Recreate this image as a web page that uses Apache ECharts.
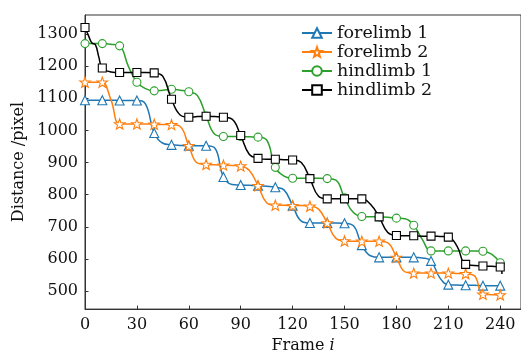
<!DOCTYPE html>
<html>
<head>
<meta charset="utf-8">
<script src="https://cdn.jsdelivr.net/npm/echarts@6/dist/echarts.min.js"></script>
<style>
html,body{margin:0;padding:0;background:#fff;}
#chart{width:521px;height:359px;}
</style>
</head>
<body>
<div id="chart"></div>
<script>
const frames = [0,2,4,6,8,10,15,20,25,30,35,40,45,50,55,60,65,70,75,80,85,90,95,100,105,110,115,120,125,130,135,140,145,150,155,160,165,170,175,180,185,190,195,200,205,210,215,220,225,230,235,240,241];

const forelimb1 = [1094,1094,1094,1094,1094,1094,1094,1093,1093,1093,1082,992,960,955,953,952,952,952,945,855,832,830,829,828,826,823,815,766,718,712,712,712,712,711,704,643,610,605,605,605,605,605,603,594,542,520,519,518,518,517,517,517,null];
const forelimb2 = [1150,1150,1150,1150,1150,1150,1095,1020,1020,1020,1020,1019,1018,1018,1012,952,898,894,893,892,891,889,875,828,775,767,767,766,766,764,755,712,664,656,655,655,655,655,650,605,560,556,556,556,556,556,555,554,548,490,489,488,null];
const hindlimb1 = [1270,1270,1270,1270,1270,1270,1268,1263,1200,1150,1130,1123,1125,1128,1125,1120,1108,1045,988,981,981,981,980,979,970,885,858,851,851,851,851,850,845,790,745,732,731,731,730,727,725,705,660,625,625,625,625,625,625,624,615,588,null];
const hindlimb2 = [1320,1295,1272,1267,1228,1194,1182,1180,1180,1180,1180,1179,1168,1097,1048,1041,1043,1044,1043,1041,1035,984,925,913,910,910,909,908,900,850,795,787,787,787,787,787,770,731,682,673,672,672,671,671,670,668,640,583,580,578,577,575,553];

const seriesNames = ['forelimb 1','forelimb 2','hindlimb 1','hindlimb 2'];
const xTicks = [0,30,60,90,120,150,180,210,240];
const yTicks = [500,600,700,800,900,1000,1100,1200,1300];

const STAR = 'path://M0,-10L2.35,-3.24L9.51,-3.09L3.8,1.24L5.88,8.09L0,4.5L-5.88,8.09L-3.8,1.24L-9.51,-3.09L-2.35,-3.24Z';
const styles = [
  {color:'#1f77b4', symbol:'triangle', size:9},
  {color:'#ff7f0e', symbol:STAR, size:10.5},
  {color:'#2ca02c', symbol:'circle', size:8},
  {color:'#000000', symbol:'rect', size:8}
];
const allValues = [forelimb1, forelimb2, hindlimb1, hindlimb2];

const FONT = '"DejaVu Serif", "Liberation Serif", serif';

function build(vals){
  const out = [];
  vals.forEach((v,i)=>{
    if (v === null || v === undefined) return;
    const item = {value:[frames[i], v]};
    if (frames[i] % 10 !== 0) item.symbol = 'none';
    out.push(item);
  });
  return out;
}

const series = allValues.map((vals, k)=>({
  name: seriesNames[k],
  type: 'line',
  data: build(vals),
  smooth: 0.45,
  symbol: styles[k].symbol,
  symbolSize: styles[k].size,
  symbolKeepAspect: true,
  showAllSymbol: true,
  lineStyle: {color: styles[k].color, width: 1.5},
  itemStyle: {color: '#ffffff', borderColor: styles[k].color, borderWidth: 1.1},
  color: styles[k].color,
  z: 2 + k,
  animation: false
}));

const chart = echarts.init(document.getElementById('chart'), null, {renderer:'canvas'});
chart.setOption({
  backgroundColor: '#ffffff',
  animation: false,
  grid: {left: 85, top: 15, bottom: 44, right: -7.5, show: true, borderColor: '#333', borderWidth: 1, backgroundColor: 'transparent'},
  legend: {
    data: seriesNames,
    orient: 'vertical',
    left: 296, top: 19,
    itemWidth: 30, itemHeight: 12, itemGap: 1,
    textStyle: {fontFamily: FONT, fontSize: 17.5, color: '#111'},
    backgroundColor: 'transparent'
  },
  xAxis: {
    type: 'value', min: 0, max: 252,
    name: 'Frame {it|i}',
    nameLocation: 'middle', nameGap: 28,
    nameTextStyle: {fontFamily: FONT, fontSize: 16, color: '#111', rich: {it: {fontFamily: FONT, fontStyle: 'italic', fontSize: 16, color:'#111'}}},
    axisLine: {show: true, lineStyle: {color: '#333', width: 1}},
    axisTick: {show: true, inside: true, length: 3.5, lineStyle: {color: '#333'}, customValues: xTicks},
    axisLabel: {customValues: xTicks, fontFamily: FONT, fontSize: 16, color: '#111', margin: 8, formatter: v => String(v)},
    splitLine: {show: false}
  },
  yAxis: {
    type: 'value', min: 444, max: 1359,
    name: 'Distance /pixel',
    nameLocation: 'middle', nameGap: 50,
    nameTextStyle: {fontFamily: FONT, fontSize: 16, color: '#111'},
    axisLine: {show: true, lineStyle: {color: '#333', width: 1}},
    axisTick: {show: true, inside: true, length: 3.5, lineStyle: {color: '#333'}, customValues: yTicks},
    axisLabel: {customValues: yTicks, fontFamily: FONT, fontSize: 16, color: '#111', margin: 7, formatter: v => String(v)},
    splitLine: {show: false}
  },
  series: series
});
</script>
</body>
</html>
